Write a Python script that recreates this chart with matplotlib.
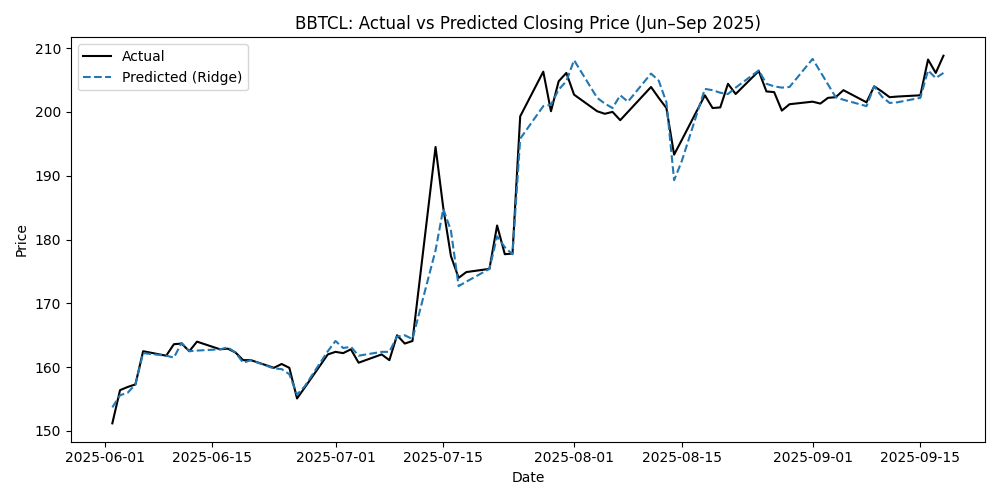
import matplotlib
matplotlib.use("Agg")
import matplotlib.pyplot as plt
import pandas as pd

dates = pd.bdate_range("2025-06-02", "2025-09-18")

actual = [
    # June
    151.2, 156.4, 156.9, 157.3, 162.5,
    161.8, 163.6, 163.7, 162.5, 164.0,
    162.8, 162.9, 162.3, 161.1, 161.1,
    159.9, 160.5, 159.9, 155.1, 156.8,
    162.0,
    # July
    162.4, 162.2, 162.8, 160.7,
    162.0, 161.1, 165.0, 163.7, 164.1,
    194.5, 185.0, 177.4, 174.0, 174.9,
    175.4, 182.2, 177.7, 177.8, 199.3,
    206.3, 200.1, 204.8, 206.1,
    # August
    202.7,
    200.1, 199.7, 200.0, 198.7, 200.0,
    203.9, 202.2, 200.6, 193.3, 195.6,
    202.6, 200.6, 200.7, 204.4, 202.8,
    206.4, 203.2, 203.1, 200.2, 201.2,
    # September
    201.6, 201.3, 202.2, 202.3, 203.4,
    201.5, 204.0, 203.2, 202.3, 202.4,
    202.6, 208.2, 206.1, 208.8,
]

predicted = [
    # June
    153.7, 155.6, 156.0, 157.3, 162.2,
    161.8, 161.5, 163.8, 162.5, 162.6,
    162.8, 163.1, 162.3, 160.7, 161.1,
    159.8, 159.7, 158.9, 155.7, 157.0,
    162.5,
    # July
    164.1, 163.0, 163.2, 161.8,
    162.4, 162.4, 164.8, 165.0, 164.4,
    178.3, 184.8, 181.4, 172.7, 173.4,
    175.4, 180.5, 178.8, 177.7, 195.8,
    200.9, 201.1, 203.5, 204.8,
    # August
    208.1,
    202.2, 201.3, 200.6, 202.6, 201.6,
    206.0, 204.9, 201.5, 189.3, 192.3,
    203.6, 203.4, 203.0, 202.8, 203.8,
    206.5, 204.4, 204.0, 203.8, 203.9,
    # September
    208.3, 206.3, 204.3, 202.3, 201.9,
    200.9, 204.0, 202.4, 201.4, 201.5,
    202.2, 206.5, 205.3, 206.1,
]

fig, ax = plt.subplots(figsize=(10, 5), dpi=100)
ax.plot(dates, actual, color="black", label="Actual")
ax.plot(dates, predicted, linestyle="--", label="Predicted (Ridge)")
ax.set_title("BBTCL: Actual vs Predicted Closing Price (Jun\u2013Sep 2025)")
ax.set_xlabel("Date")
ax.set_ylabel("Price")
ax.legend(loc="upper left")
fig.tight_layout()
fig.savefig("out.png")
